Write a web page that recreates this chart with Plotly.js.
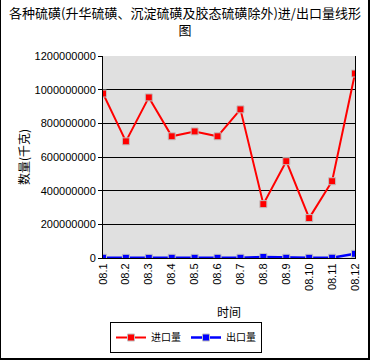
<!DOCTYPE html>
<html><head><meta charset="utf-8">
<script src="https://cdn.plot.ly/plotly-3.0.1.min.js"></script>
<style>
html,body{margin:0;padding:0;background:#fff;}
#wrap{position:absolute;left:0;top:0;width:367px;height:358px;border-left:1px solid #000;border-right:2px solid #000;border-bottom:2px solid #000;}
#chart{position:absolute;left:0;top:0;width:370px;height:360px;}
</style></head>
<body>
<div id="wrap"></div>
<div id="chart"></div>
<script>
var months = ["08.1","08.2","08.3","08.4","08.5","08.6","08.7","08.8","08.9","08.10","08.11","08.12"];
var importQty = [977e6, 693e6, 954e6, 723e6, 752e6, 723e6, 883e6, 320e6, 575e6, 237e6, 456e6, 1096e6];
var exportQty = [1.5e6, 1.2e6, 1.0e6, 1.3e6, 1.1e6, 1.2e6, 1.4e6, 6e6, 1.5e6, 1.3e6, 1.6e6, 25e6];
var yTicks = [0, 200000000, 400000000, 600000000, 800000000, 1000000000, 1200000000];

var cjk = '"Noto Sans CJK SC", "Liberation Sans", sans-serif';
var num = '"Liberation Sans", Arial, sans-serif';

var traces = [
  {x: months, y: importQty, name: "进口量", type: "scatter", mode: "lines+markers",
   line: {color: "#ff0000", width: 2},
   marker: {symbol: "square", size: 7, color: "#ff0000", line: {color: "#c0c0c0", width: 1}}},
  {x: months, y: exportQty, name: "出口量", type: "scatter", mode: "lines+markers",
   line: {color: "#0000ff", width: 2.5},
   marker: {symbol: "square", size: 7, color: "#0000ff", line: {color: "#c0c0c0", width: 1}}}
];

var layout = {
  width: 370, height: 360,
  margin: {l: 103, r: 15, t: 56, b: 102, pad: 0},
  paper_bgcolor: "rgba(0,0,0,0)",
  plot_bgcolor: "#e0e0e0",
  font: {family: cjk, size: 12, color: "#000"},
  title: {text: "各种硫磺(升华硫磺、沉淀硫磺及胶态硫磺除外)进/出口量线形<br>图",
          font: {family: cjk, size: 13, color: "#000"},
          x: 0.5, xanchor: "center", y: 0.95, yanchor: "middle", yref: "container", automargin: false},
  xaxis: {type: "category", range: [0, 11], showgrid: false, zeroline: false, automargin: false,
          showline: true, linecolor: "#000", linewidth: 1, mirror: false,
          ticks: "", tickangle: -90, tickfont: {family: num, size: 11, color: "#000"},
          title: {text: "时间", font: {family: cjk, size: 12, color: "#000"}, standoff: 18}},
  yaxis: {range: [0, 1200000000], tickvals: yTicks, ticktext: yTicks.map(String), automargin: false,
          showgrid: true, gridcolor: "#000", gridwidth: 1, zeroline: false,
          showline: true, linecolor: "#000", linewidth: 1, mirror: true,
          ticks: "outside", ticklen: 4, tickcolor: "#000",
          tickfont: {family: num, size: 11, color: "#000"},
          title: {text: "数量(千克)", font: {family: cjk, size: 12, color: "#000"}, standoff: 2}},
  showlegend: true,
  legend: {orientation: "h", x: 110/370, xref: "container", xanchor: "left",
           y: 1 - 322/360, yref: "container", yanchor: "top",
           bordercolor: "#000", borderwidth: 1, bgcolor: "#fff", tracegroupgap: 0,
           font: {family: cjk, size: 10, color: "#000"}, itemwidth: 30}
};

Plotly.newPlot("chart", traces, layout, {displayModeBar: false, staticPlot: true});
</script>
</body></html>
